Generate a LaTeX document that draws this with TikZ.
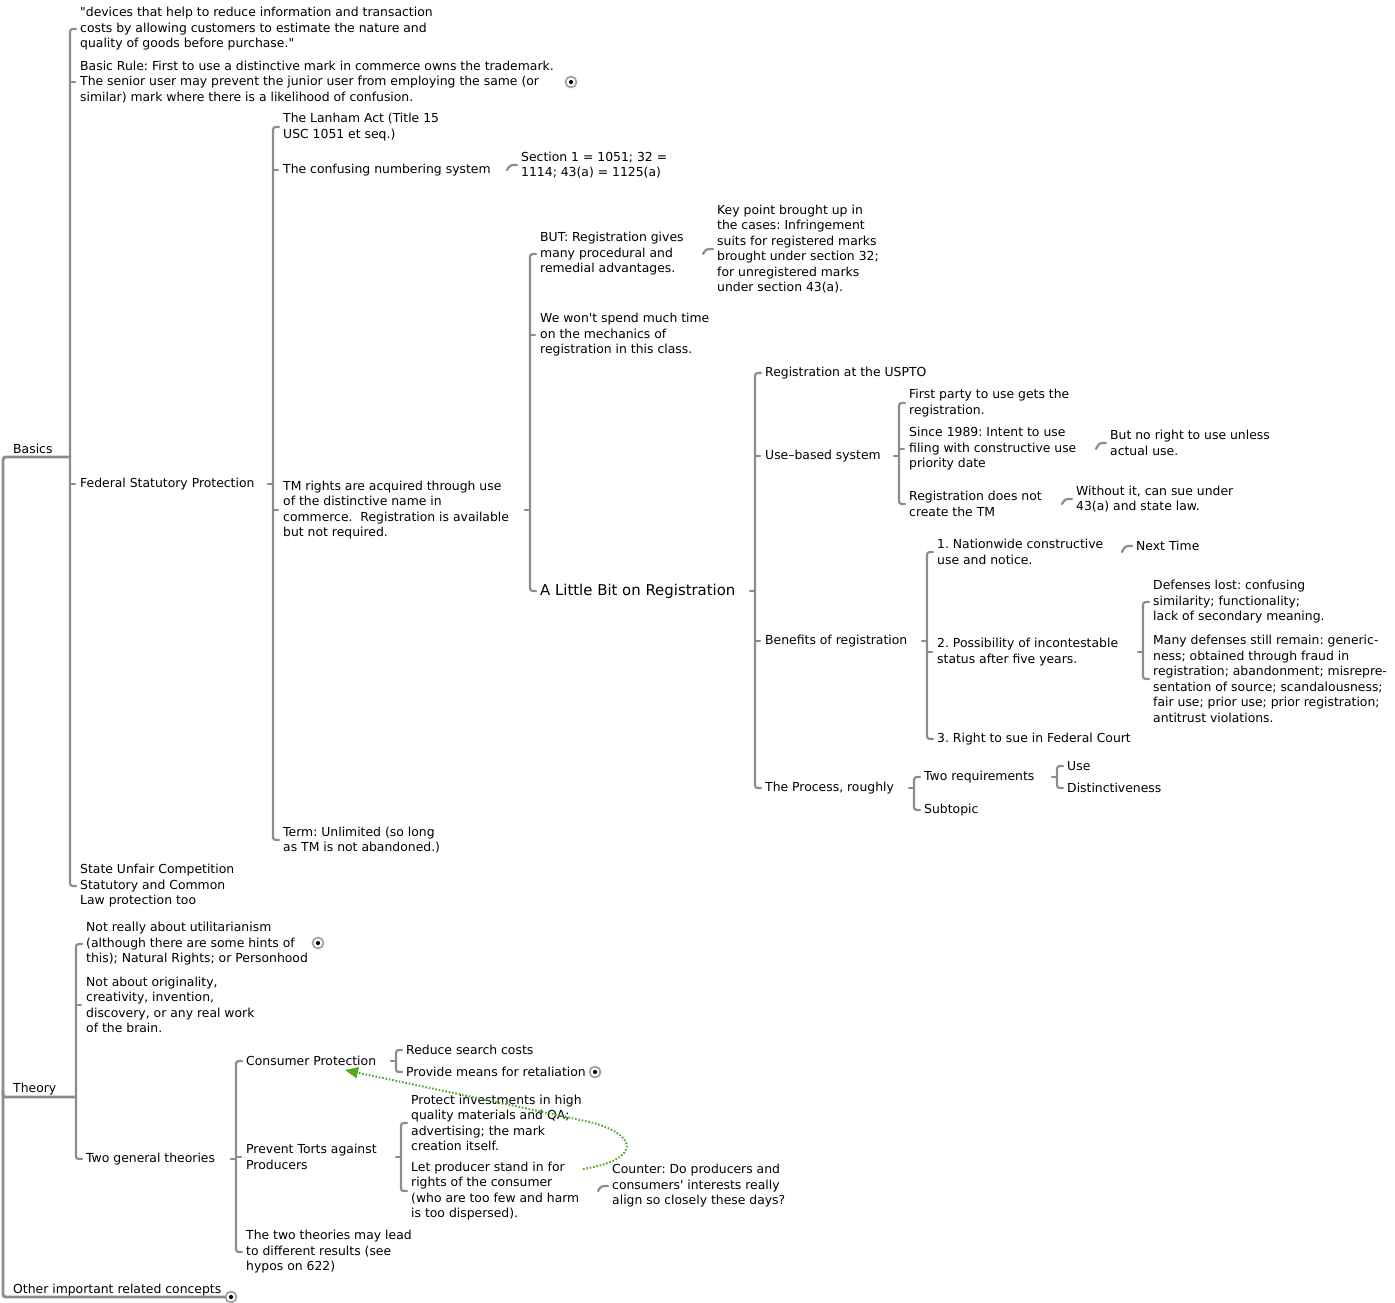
\documentclass[tikz,border=0pt]{standalone}
\usepackage{fontspec}
\setmainfont{DejaVu Sans}
\usetikzlibrary{arrows.meta,calc}
\definecolor{mapgray}{RGB}{140,140,140}
\definecolor{linkgreen}{RGB}{82,170,30}
\frenchspacing

% bracket from a parent to a column of children
\newcommand{\branches}[4]{%
  \coordinate (bx) at ($(#2.west)+(-10,0)$);
  \draw[branch] ($(#2.west)+(-4,0)$) .. controls (bx |- #2.west) .. ($(bx |- #2.west)+(0,6)$)
    -- ($(bx |- #3.west)+(0,-6)$) .. controls (bx |- #3.west) .. ($(#3.west)+(-4,0)$);
  \draw[branch] ($(bx |- #1)+(-5,0)$) -- (bx |- #1);
  \if\relax\detokenize{#4}\relax\else
    \foreach \kid in {#4} {\draw[branch] (bx |- \kid.west) -- ($(\kid.west)+(-5,0)$);}
  \fi}
% hook to a single child
\newcommand{\onebranch}[2]{%
  \coordinate (bx) at ($(#2.west)+(-14,0)$);
  \draw[branch] (bx |- #1) .. controls ($(#2.west)+(-11,0)$) .. ($(#2.west)+(-4,0)$);}

\begin{document}
\begin{tikzpicture}[x=1pt,y=-1pt,
  txt/.style={anchor=west,align=left,inner sep=0pt,font=\fontsize{12.4}{15.5}\selectfont},
  big/.style={txt,font=\fontsize{14.9}{18}\selectfont},
  branch/.style={draw=mapgray,line width=2.2pt,line cap=round},
  trunk/.style={branch,line width=2.8pt},
  icon/.style={circle,draw=mapgray!80,line width=1.8pt,fill=white,minimum size=11pt,inner sep=0pt,
    path picture={\fill[black] (path picture bounding box.center) circle (2.1pt);}},
  link/.style={draw=linkgreen,line width=2pt,dash pattern=on 1.6pt off 1.8pt,
    -{Triangle[length=13pt,width=11pt,fill=linkgreen]}}]
\useasboundingbox (0,0) rectangle (1395,1302);

% main topics
\node[txt] (basics) at (13,449) {Basics};
\node[txt] (theory) at (13,1089) {Theory};
\node[txt] (other) at (13,1290) {Other important related concepts};
\node[icon] (otherI) at (231,1297) {};
\coordinate (basicsU) at (70,457);
\coordinate (theoryU) at (76,1097);
\coordinate (otherU) at (225,1297);
\draw[trunk] (basicsU) -- (9,457) .. controls (3,457) .. (3,463) -- (3,1291)
  .. controls (3,1297) .. (9,1297) -- (otherU);
\draw[trunk] (3,1091) .. controls (3,1097) .. (9,1097) -- (theoryU);

% Basics
\node[txt] (quote) at (80,29) {\textquotedbl devices that help to reduce information and transaction\\costs by allowing customers to estimate the nature and\\quality of goods before purchase.\textquotedbl};
\node[txt] (rule) at (80,82) {Basic Rule: First to use a distinctive mark in commerce owns the trademark.\\The senior user may prevent the junior user from employing the same (or\\similar) mark where there is a likelihood of confusion.};
\node[icon] (ruleI) at (571,82) {};
\node[txt] (fed) at (80,484) {Federal Statutory Protection};
\node[txt] (state) at (80,886) {State Unfair Competition\\Statutory and Common\\Law protection too};
\branches{basicsU}{quote}{state}{rule,fed}

\node[txt] (lanham) at (283,127) {The Lanham Act (Title 15\\USC 1051 et seq.)};
\node[txt] (numbering) at (283,170) {The confusing numbering system};
\node[txt] (tmrights) at (283,510) {TM rights are acquired through use\\of the distinctive name in\\commerce.\ \ Registration is available\\but not required.};
\node[txt] (term) at (283,840) {Term: Unlimited (so long\\as TM is not abandoned.)};
\branches{fed.east}{lanham}{term}{numbering,tmrights}

\node[txt] (section) at (521,165) {Section 1 = 1051; 32 =\\1114; 43(a) = 1125(a)};
\onebranch{numbering.east}{section}

\node[txt] (but) at (540,254) {BUT: Registration gives\\many procedural and\\remedial advantages.};
\node[txt] (wont) at (540,335) {We won\textquotesingle t spend much time\\on the mechanics of\\registration in this class.};
\node[big] (little) at (540,591) {A Little Bit on Registration};
\branches{tmrights.east}{but}{little}{wont}

\node[txt] (keypoint) at (717,249) {Key point brought up in\\the cases: Infringement\\suits for registered marks\\brought under section 32;\\for unregistered marks\\under section 43(a).};
\onebranch{but.east}{keypoint}

% A Little Bit on Registration
\node[txt] (uspto) at (765,373) {Registration at the USPTO};
\node[txt] (usebased) at (765,456) {Use–based system};
\node[txt] (benefits) at (765,641) {Benefits of registration};
\node[txt] (process) at (765,788) {The Process, roughly};
\branches{little.east}{uspto}{process}{usebased,benefits}

\node[txt] (firstparty) at (909,403) {First party to use gets the\\registration.};
\node[txt] (since) at (909,449) {Since 1989: Intent to use\\filing with constructive use\\priority date};
\node[txt] (regnot) at (909,504) {Registration does not\\create the TM};
\branches{usebased.east}{firstparty}{regnot}{since}
\node[txt] (noright) at (1110,443) {But no right to use unless\\actual use.};
\onebranch{since.east}{noright}
\node[txt] (without) at (1076,499) {Without it, can sue under\\43(a) and state law.};
\onebranch{regnot.east}{without}

\node[txt] (nation) at (937,552) {1. Nationwide constructive\\use and notice.};
\node[txt] (incont) at (937,652) {2. Possibility of incontestable\\status after five years.};
\node[txt] (fedcourt) at (937,739) {3. Right to sue in Federal Court};
\branches{benefits.east}{nation}{fedcourt}{incont}
\node[txt] (nexttime) at (1136,546) {Next Time};
\onebranch{nation.east}{nexttime}
\node[txt] (lost) at (1153,602) {Defenses lost: confusing\\similarity; functionality;\\lack of secondary meaning.};
\node[txt] (remain) at (1153,679) {Many defenses still remain: generic-\\ness; obtained through fraud in\\registration; abandonment; misrepre-\\sentation of source; scandalousness;\\fair use; prior use; prior registration;\\antitrust violations.};
\branches{incont.east}{lost}{remain}{}

\node[txt] (tworeq) at (924,777) {Two requirements};
\node[txt] (subtopic) at (924,810) {Subtopic};
\branches{process.east}{tworeq}{subtopic}{}
\node[txt] (use) at (1067,766) {Use};
\node[txt] (dist) at (1067,788) {Distinctiveness};
\branches{tworeq.east}{use}{dist}{}

% Theory
\node[txt] (util) at (86,944) {Not really about utilitarianism\\(although there are some hints of\\this); Natural Rights; or Personhood};
\node[icon] (utilI) at (318,943) {};
\node[txt] (orig) at (86,1005) {Not about originality,\\creativity, invention,\\discovery, or any real work\\of the brain.};
\node[txt] (twogen) at (86,1159) {Two general theories};
\branches{theoryU}{util}{twogen}{orig}

\node[txt] (consumer) at (246,1061) {Consumer Protection};
\node[txt] (torts) at (246,1157) {Prevent Torts against\\Producers};
\node[txt] (maylead) at (246,1252) {The two theories may lead\\to different results (see\\hypos on 622)};
\branches{twogen.east}{consumer}{maylead}{torts}

\node[txt] (search) at (406,1050) {Reduce search costs};
\node[txt] (retal) at (406,1072) {Provide means for retaliation};
\node[icon] (retalI) at (595,1072) {};
\branches{consumer.east}{search}{retal}{}

\node[txt] (protect) at (411,1123) {Protect investments in high\\quality materials and QA;\\advertising; the mark\\creation itself.};
\node[txt] (letprod) at (411,1191) {Let producer stand in for\\rights of the consumer\\(who are too few and harm\\is too dispersed).};
\branches{torts.east}{protect}{letprod}{}
\node[txt] (counter) at (612,1186) {Counter: Do producers and\\consumers\textquotesingle\ interests really\\align so closely these days?};
\onebranch{letprod.east}{counter}

% relationship from the producer side back to consumer protection
\coordinate (linkS) at (583,1169);
\coordinate (linkE) at (345,1070);
\draw[link] (linkS) .. controls (640,1160) and (640,1135) .. (590,1122) -- (linkE);
\end{tikzpicture}
\end{document}
